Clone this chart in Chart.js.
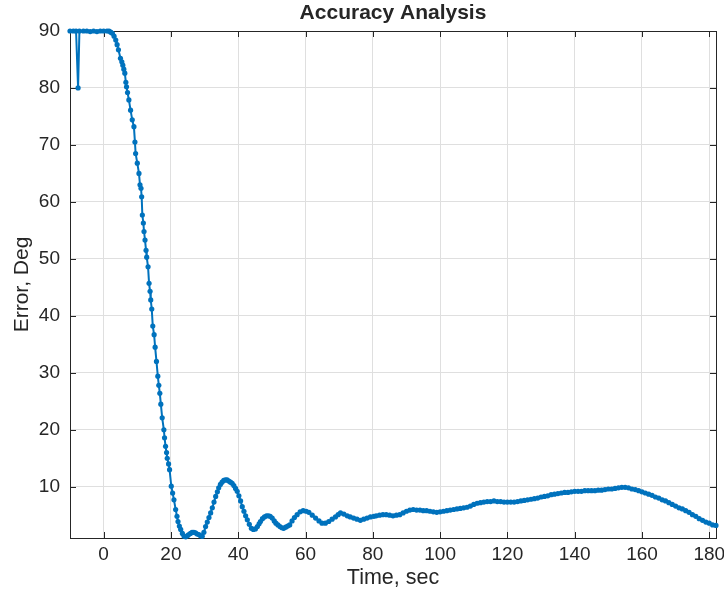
<!DOCTYPE html>
<html>
<head>
<meta charset="utf-8">
<title>Accuracy Analysis</title>
<script src="https://cdn.jsdelivr.net/npm/chart.js@4"></script>
<style>
  html, body { margin: 0; padding: 0; background: #ffffff; }
</style>
</head>
<body>
<canvas id="acc_chart" width="724" height="597"></canvas>
<script>
// values
const timeSec = [
  -10, -9, -8.2, -7.6, -7.2, -6, -5, -4, -3, -2, -1, 0, 1, 1.6, 2.1, 2.6, 3.1, 3.6, 4.0, 4.4,
  5.0, 5.4, 5.7, 6.0, 6.3, 6.6, 6.8, 7.1, 7.5, 8.0, 8.5, 9.0, 9.3, 9.5, 10.0, 10.5, 10.8, 11.1, 11.3, 11.5,
  11.8, 12.0, 12.3, 12.6, 12.8, 13.2, 13.5, 13.8, 14.0, 14.3, 14.6, 15.0, 15.3, 15.7, 16.1, 16.4, 16.7, 17.0, 17.4, 17.9,
  18.1, 18.4, 18.7, 18.9, 19.3, 19.6, 20.1, 20.5, 20.9, 21.4, 21.8, 22.1, 22.5, 22.9, 23.4, 23.9, 24.4, 24.9, 25.3, 25.8,
  26.3, 26.8, 27.3, 27.8, 28.3, 28.8, 29.3, 29.8, 30.3, 30.8, 31.3, 31.8, 32.3, 32.8, 33.3, 33.8, 34.2, 34.7, 35.2, 35.7,
  36.2, 36.7, 37.2, 37.7, 38.2, 38.7, 39.2, 39.7, 40.2, 40.7, 41.2, 41.7, 42.2, 42.7, 43.3, 43.9, 44.5, 45.1, 45.7, 46.2,
  46.6, 47.2, 47.8, 48.4, 49.0, 49.5, 50.1, 50.7, 51.2, 51.8, 52.4, 53.0, 53.5, 54.1, 54.7, 55.3, 56.0, 56.7, 57.5, 58.4,
  59.3, 60.2, 61.0, 62.0, 63.0, 64.0, 64.9, 65.9, 66.9, 67.9, 68.9, 69.7, 70.4, 71.4, 72.4, 73.3, 74.3, 75.3, 76.3, 77.3,
  78.3, 79.3, 80.3, 81, 82, 83, 84, 85, 86, 87, 88, 89, 90, 91, 92, 93, 94, 95, 96, 97,
  98, 99, 100, 101, 102, 103, 104, 105, 106, 107, 108, 109, 110, 111, 112, 113, 114, 115, 116, 117,
  118, 119, 120, 121, 122, 123, 124, 125, 126, 127, 128, 129, 130, 131, 132, 133, 134, 135, 136, 137,
  138, 139, 140, 141, 142, 143, 144, 145, 146, 147, 148, 149, 150, 151, 152, 153, 154, 155, 156, 157,
  158, 159, 160, 161, 162, 163, 164, 165, 166, 167, 168, 169, 170, 171, 172, 173, 174, 175, 176, 177,
  178, 179, 180, 181, 182
];
const errorDeg = [
  90, 90, 90, 80, 90, 90, 90, 89.9, 90, 89.9, 90, 90, 90, 90, 89.8, 89.6, 89.1, 88.4, 87.6, 86.7,
  85.2, 84.6, 84.0, 83.3, 82.6, 81.0, 80.2, 79.2, 77.9, 76.1, 74.4, 73.2, 70.5, 68.5, 66.8, 65.0, 63.0, 62.4, 60.9, 57.7,
  56.3, 54.8, 53.3, 51.5, 50.3, 48.6, 45.7, 44.3, 42.8, 41.2, 38.2, 36.7, 34.5, 32.0, 29.4, 27.8, 26.4, 24.5, 22.1, 20.0,
  18.6, 17.1, 16.0, 15.0, 14.0, 13.0, 10.1, 8.9, 7.7, 6.0, 4.8, 3.9, 3.1, 2.5, 1.8, 1.3, 1.2, 1.4, 1.6, 1.8,
  2.0, 2.0, 1.9, 1.7, 1.6, 1.4, 1.3, 2.0, 3.0, 3.8, 4.6, 5.4, 6.3, 7.3, 8.3, 9.1, 9.8, 10.4, 10.8, 11.1,
  11.2, 11.2, 11.0, 10.8, 10.6, 10.2, 9.7, 9.2, 8.4, 7.5, 6.5, 5.7, 4.9, 4.2, 3.4, 2.7, 2.5, 2.6, 3.0, 3.5,
  3.9, 4.4, 4.7, 4.9, 4.9, 4.8, 4.5, 4.0, 3.6, 3.3, 3.0, 2.8, 2.7, 2.9, 3.1, 3.3, 4.0, 4.6, 5.1, 5.6,
  5.8, 5.7, 5.5, 5.0, 4.5, 4.0, 3.6, 3.6, 3.9, 4.3, 4.7, 5.1, 5.4, 5.2, 4.9, 4.7, 4.5, 4.3, 4.1, 4.3,
  4.5, 4.7, 4.8, 4.9, 5.0, 5.1, 5.1, 5.0, 4.9, 5.0, 5.1, 5.4, 5.7, 5.9, 6.0, 5.9, 5.9, 5.8, 5.8, 5.7,
  5.6, 5.5, 5.6, 5.7, 5.8, 5.9, 6.0, 6.1, 6.2, 6.3, 6.4, 6.6, 6.9, 7.1, 7.2, 7.3, 7.4, 7.4, 7.5, 7.4,
  7.4, 7.3, 7.3, 7.3, 7.3, 7.4, 7.5, 7.6, 7.7, 7.8, 7.9, 8.0, 8.2, 8.3, 8.4, 8.6, 8.7, 8.8, 8.9, 9.0,
  9.0, 9.1, 9.2, 9.2, 9.2, 9.3, 9.3, 9.3, 9.3, 9.4, 9.4, 9.5, 9.6, 9.6, 9.7, 9.8, 9.9, 9.9, 9.8, 9.6,
  9.5, 9.3, 9.1, 8.9, 8.7, 8.5, 8.2, 8.0, 7.7, 7.5, 7.2, 6.9, 6.6, 6.3, 6.1, 5.8, 5.5, 5.1, 4.8, 4.4,
  4.1, 3.8, 3.6, 3.3, 3.2
];
const xTicks = [0, 20, 40, 60, 80, 100, 120, 140, 160, 180];
const yTicks = [10, 20, 30, 40, 50, 60, 70, 80, 90];
const chartTitle = 'Accuracy Analysis';

const LINE_BLUE = '#0072BD';
const AXIS_COLOR = '#262626';
const GRID_COLOR = '#dfdfdf';
const FONT = "'Liberation Sans', Arial, sans-serif";
const TICK_LEN = 6;

// MATLAB style box with inward ticks on all four sides
const matlabBox = {
  id: 'matlabBox',
  beforeDatasetsDraw(chart) {
    const { ctx, chartArea: a, scales } = chart;
    ctx.save();
    ctx.strokeStyle = AXIS_COLOR;
    ctx.lineWidth = 1;
    ctx.beginPath();
    scales.x.ticks.forEach(t => {
      const px = Math.round(scales.x.getPixelForValue(t.value)) + 0.5;
      ctx.moveTo(px, a.bottom); ctx.lineTo(px, a.bottom - TICK_LEN);
      ctx.moveTo(px, a.top); ctx.lineTo(px, a.top + TICK_LEN);
    });
    scales.y.ticks.forEach(t => {
      const py = Math.round(scales.y.getPixelForValue(t.value)) + 0.5;
      ctx.moveTo(a.left, py); ctx.lineTo(a.left + TICK_LEN, py);
      ctx.moveTo(a.right, py); ctx.lineTo(a.right - TICK_LEN, py);
    });
    ctx.stroke();
    ctx.strokeRect(Math.round(a.left) + 0.5, Math.round(a.top) + 0.5,
                   Math.round(a.right - a.left), Math.round(a.bottom - a.top));
    ctx.restore();
  },
  // title centred over the plot box, like MATLAB does
  afterDraw(chart) {
    const { ctx, chartArea: a } = chart;
    ctx.save();
    ctx.fillStyle = AXIS_COLOR;
    ctx.font = 'bold 21px ' + FONT;
    ctx.textAlign = 'center';
    ctx.textBaseline = 'middle';
    ctx.fillText(chartTitle, (a.left + a.right) / 2, 13);
    ctx.restore();
  }
};

const points = timeSec.map((t, i) => ({ x: t, y: errorDeg[i] }));

const ctx = document.getElementById('acc_chart').getContext('2d');
new Chart(ctx, {
  type: 'line',
  data: {
    datasets: [{
      data: points,
      borderColor: LINE_BLUE,
      borderWidth: 2,
      pointRadius: 2.6,
      pointBackgroundColor: LINE_BLUE,
      pointBorderWidth: 0,
      tension: 0,
      clip: 6
    }]
  },
  options: {
    responsive: false,
    animation: false,
    layout: { padding: { left: 0, right: 8, top: 31, bottom: 0 } },
    plugins: {
      legend: { display: false },
      tooltip: { enabled: false },
      title: { display: false }
    },
    scales: {
      x: {
        type: 'linear',
        min: -10,
        max: 182,
        afterBuildTicks: s => { s.ticks = xTicks.map(v => ({ value: v })); },
        afterFit: s => { s.height = 59; s.paddingLeft = 0; s.paddingRight = 0; },
        grid: { color: GRID_COLOR, drawTicks: false },
        border: { display: false },
        ticks: { color: AXIS_COLOR, font: { family: FONT, size: 19 }, padding: 5, maxRotation: 0 },
        title: {
          display: true,
          text: 'Time, sec',
          color: AXIS_COLOR,
          font: { family: FONT, size: 21.5 },
          padding: { top: 0, bottom: 6 }
        }
      },
      y: {
        type: 'linear',
        min: 1,
        max: 90,
        afterBuildTicks: s => { s.ticks = yTicks.map(v => ({ value: v })); },
        afterFit: s => { s.width = 70; s.paddingTop = 0; s.paddingBottom = 0; },
        grid: { color: GRID_COLOR, drawTicks: false },
        border: { display: false },
        ticks: { color: AXIS_COLOR, font: { family: FONT, size: 19 }, padding: 10 },
        title: {
          display: true,
          text: 'Error, Deg',
          color: AXIS_COLOR,
          font: { family: FONT, size: 21 },
          padding: { top: 10, bottom: 0 }
        }
      }
    }
  },
  plugins: [matlabBox]
});
</script>
</body>
</html>
